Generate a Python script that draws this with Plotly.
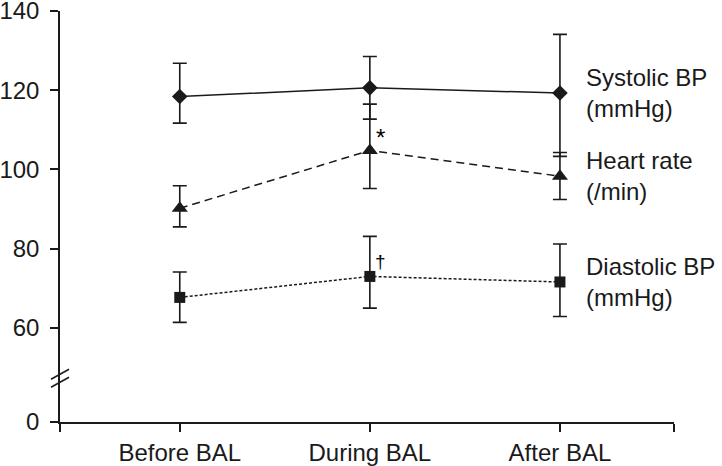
import plotly.graph_objects as go

# categories and values
periods = ['Before BAL', 'During BAL', 'After BAL']
x_pos = [0, 1, 2]

systolic = [118.4, 120.6, 119.3]
systolic_plus = [8.4, 7.9, 14.8]
systolic_minus = [6.7, 7.9, 16.0]

heart_rate = [90.2, 104.8, 98.3]
heart_rate_plus = [5.7, 11.7, 6.0]
heart_rate_minus = [4.7, 9.6, 5.9]

diastolic = [67.7, 73.0, 71.6]
diastolic_plus = [6.4, 10.1, 9.6]
diastolic_minus = [6.3, 8.0, 8.7]

# broken axis: the "0" label sits below 60 after the break
y_zero = 36.25
y_ticks = [y_zero, 60, 80, 100, 120, 140]
y_labels = ['0', '60', '80', '100', '120', '140']

FONT = 'Liberation Sans, Arial, sans-serif'
INK = '#1a1a1a'


def series(y, plus, minus, symbol, size, dash):
    return go.Scatter(
        x=x_pos, y=y,
        mode='lines+markers',
        line=dict(color=INK, width=1.5, dash=dash),
        marker=dict(symbol=symbol, size=size, color=INK),
        error_y=dict(type='data', symmetric=False, array=plus, arrayminus=minus,
                     color=INK, thickness=1.6, width=7),
        showlegend=False,
        cliponaxis=False,
    )


fig = go.Figure()
fig.add_trace(series(systolic, systolic_plus, systolic_minus, 'diamond', 12, 'solid'))
fig.add_trace(series(heart_rate, heart_rate_plus, heart_rate_minus, 'triangle-up', 14, '8px,5px'))
fig.add_trace(series(diastolic, diastolic_plus, diastolic_minus, 'square', 11, '3px,2px'))

# series labels at the right, centred on the last point of each line
labels = ['Systolic BP<br>(mmHg)', 'Heart rate<br>(/min)', 'Diastolic BP<br>(mmHg)']
for text, y in zip(labels, [systolic[-1], heart_rate[-1], diastolic[-1]]):
    fig.add_annotation(x=x_pos[-1], y=y, text=text, showarrow=False,
                       xanchor='left', yanchor='middle', xshift=24, align='left',
                       font=dict(family=FONT, size=24, color=INK))

# significance marks
fig.add_annotation(x=x_pos[1], y=heart_rate[1], text='*', showarrow=False,
                   xshift=11, yshift=13, font=dict(family=FONT, size=24, color='black'))
fig.add_annotation(x=x_pos[1], y=diastolic[1], text='†', showarrow=False,
                   xshift=11, yshift=15, font=dict(family=FONT, size=19, color='black'))

# axis break marks
for dy in (-4, 4):
    fig.add_shape(type='line', xref='paper', yref='y',
                  xsizemode='pixel', ysizemode='pixel', xanchor=0, yanchor=47.3,
                  x0=-9, x1=9, y0=dy - 5, y1=dy + 5,
                  line=dict(color=INK, width=1.5))

fig.update_layout(
    width=722, height=466,
    margin=dict(l=60, r=48, t=11, b=44),
    plot_bgcolor='white', paper_bgcolor='white',
    font=dict(family=FONT, size=24, color=INK),
)
fig.update_xaxes(
    range=[-0.63, 2.6],
    tickvals=[-0.63, 0, 1, 2, 2.6],
    ticktext=['', 'Before BAL', 'During BAL', 'After BAL', ''],
    ticks='outside', ticklen=8, tickwidth=1.5, tickcolor=INK,
    showline=True, linecolor=INK, linewidth=1.5,
    showgrid=False, zeroline=False, automargin=False,
    ticklabeloverflow='allow',
    tickfont=dict(size=24),
)
fig.update_yaxes(
    range=[y_zero, 140.001],
    tickvals=y_ticks, ticktext=y_labels,
    ticks='outside', ticklen=8, tickwidth=1.5, tickcolor=INK,
    showline=True, linecolor=INK, linewidth=1.5,
    showgrid=False, zeroline=False, automargin=False,
    ticklabelstandoff=6, ticklabeloverflow='allow',
    tickfont=dict(size=24),
)

# drop the page's default body margin so the figure sits at the top-left corner
fig.write_html('out.html', config={'displayModeBar': False},
               post_script="document.body.style.margin='0';")
